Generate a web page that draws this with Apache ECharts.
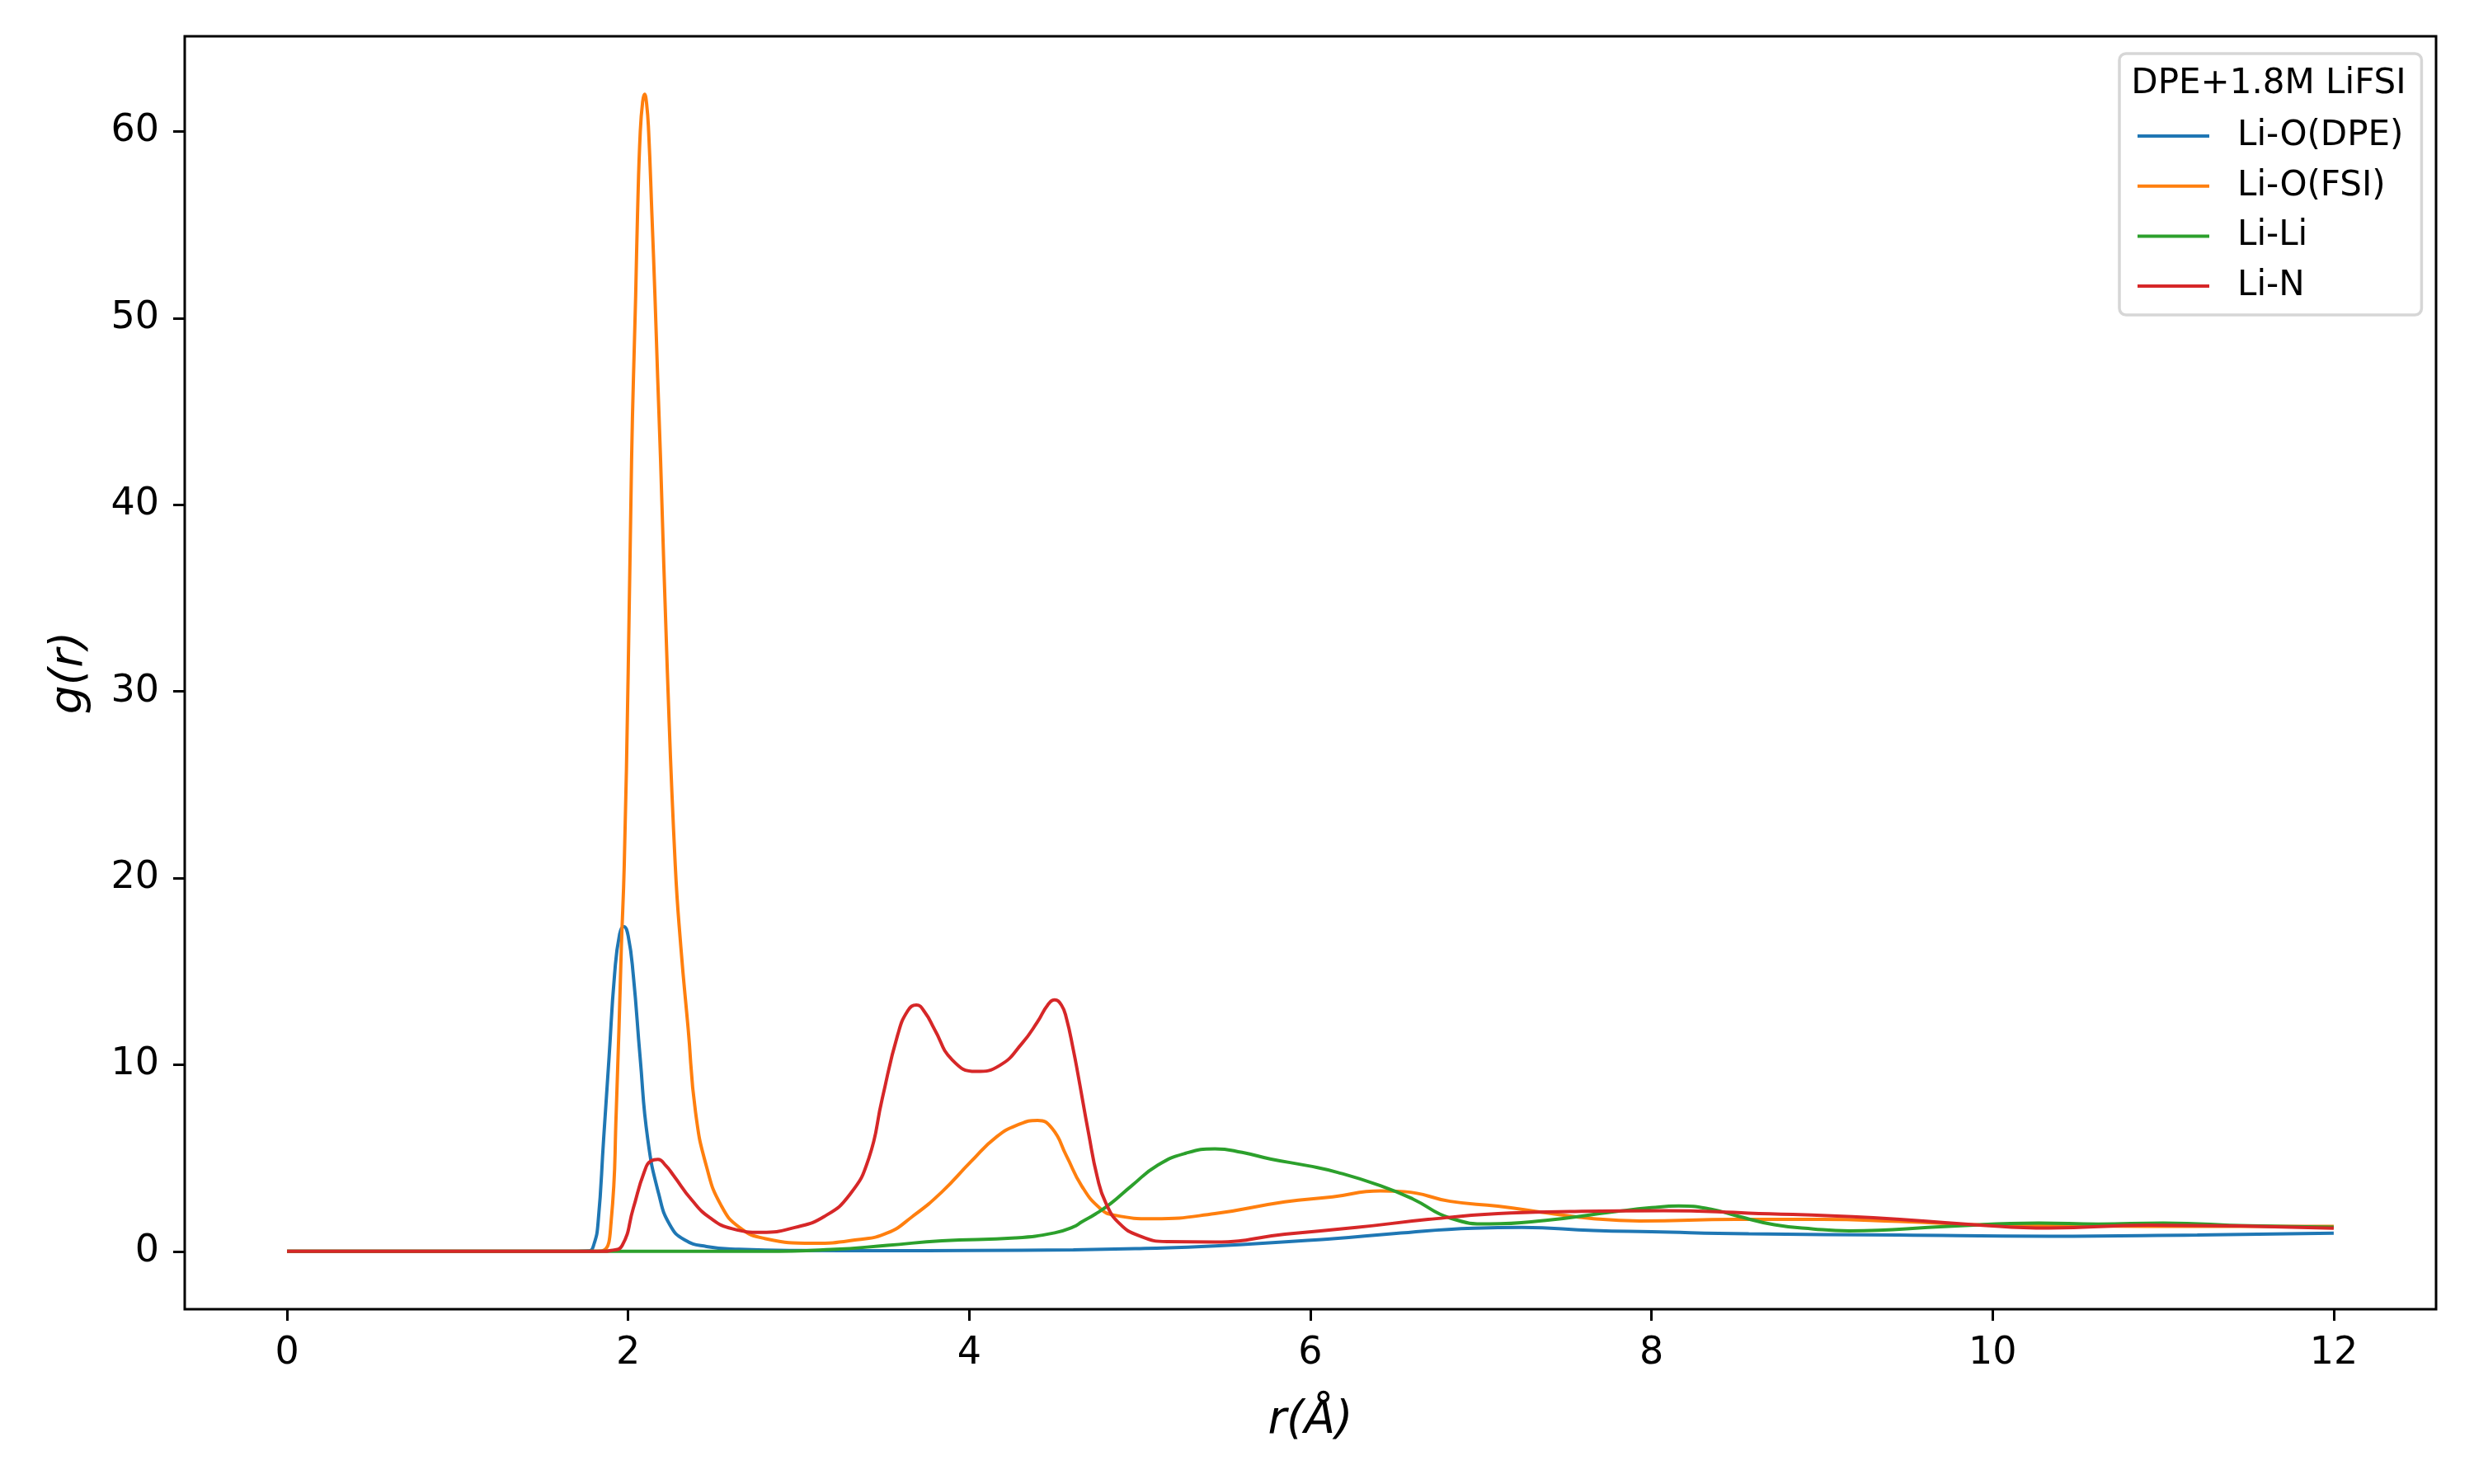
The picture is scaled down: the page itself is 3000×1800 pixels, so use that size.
<!DOCTYPE html>
<html>
<head>
<meta charset="utf-8">
<script src="https://cdn.jsdelivr.net/npm/echarts@6/dist/echarts.min.js"></script>
<style>html,body{margin:0;padding:0;background:#fff;}#chart{width:3000px;height:1800px;}</style>
</head>
<body>
<div id="chart"></div>
<script>
const legendTitle = 'DPE+1.8M LiFSI';
const seriesNames = ['Li-O(DPE)', 'Li-O(FSI)', 'Li-Li', 'Li-N'];
const xTicks = [0, 2, 4, 6, 8, 10, 12];
const yTicks = [0, 10, 20, 30, 40, 50, 60];

const rDPE = [0, 1.0, 1.70, 1.77, 1.80, 1.824, 1.856, 1.888, 1.92, 1.95, 1.975, 2.00, 2.03, 2.07, 2.115, 2.18, 2.244, 2.33, 2.46, 2.65, 3.0, 3.5, 4.0, 4.61, 5.0, 5.44, 6.13, 6.49, 6.96, 7.24, 7.66, 8.0, 8.57, 9.45, 10.33, 11.2, 12.0];
const gDPE = [0, 0, 0, 0.02, 0.4, 1.58, 6.0, 10.4, 14.8, 17.0, 17.4, 16.9, 14.8, 10.4, 6.0, 3.05, 1.43, 0.62, 0.26, 0.11, 0.05, 0.04, 0.05, 0.08, 0.15, 0.29, 0.68, 0.95, 1.24, 1.28, 1.12, 1.05, 0.94, 0.87, 0.81, 0.88, 0.97];

const rFSI = [0, 1.0, 1.80, 1.856, 1.90, 1.93, 1.96, 1.977, 2.00, 2.02, 2.031, 2.044, 2.055, 2.071, 2.085, 2.096, 2.108, 2.12, 2.139, 2.157, 2.173, 2.19, 2.23, 2.276, 2.309, 2.352, 2.395, 2.46, 2.545, 2.653, 2.80, 3.085, 3.34, 3.52, 3.667, 3.84, 4.01, 4.16, 4.29, 4.40, 4.486, 4.57, 4.66, 4.766, 4.85, 5.08, 5.44, 5.85, 6.13, 6.41, 6.55, 6.82, 7.10, 7.38, 7.66, 7.93, 8.49, 9.0, 9.45, 10.03, 10.91, 12.0];
const gFSI = [0, 0, 0, 0.05, 1.58, 7.46, 16.3, 20.7, 31, 42.4, 46.8, 51.2, 55.6, 60.0, 61.6, 62.0, 61.5, 60.0, 55.6, 51.2, 46.8, 42.4, 31, 20.7, 16.3, 11.9, 7.46, 4.52, 2.46, 1.28, 0.69, 0.43, 0.62, 0.99, 1.87, 3.19, 4.81, 6.14, 6.8, 7.02, 6.58, 5.11, 3.49, 2.31, 1.94, 1.75, 2.02, 2.65, 2.92, 3.24, 3.2, 2.68, 2.42, 2.07, 1.75, 1.63, 1.71, 1.72, 1.6, 1.4, 1.34, 1.34];

const rLiLi = [0, 1.0, 2.0, 2.8, 3.19, 3.52, 3.84, 4.27, 4.50, 4.61, 4.66, 4.74, 4.83, 4.95, 5.105, 5.27, 5.44, 5.6, 5.77, 5.99, 6.16, 6.41, 6.60, 6.82, 7.05, 7.38, 7.79, 8.0, 8.16, 8.35, 8.5, 8.72, 8.95, 9.16, 9.74, 10.27, 10.62, 11.0, 11.5, 12.0];
const gLiLi = [0, 0, 0, 0, 0.1, 0.32, 0.57, 0.72, 0.99, 1.31, 1.58, 2.0, 2.57, 3.5, 4.62, 5.26, 5.49, 5.3, 4.94, 4.58, 4.23, 3.52, 2.81, 1.78, 1.47, 1.66, 2.13, 2.34, 2.43, 2.26, 1.9, 1.43, 1.2, 1.1, 1.34, 1.52, 1.46, 1.52, 1.37, 1.3];

const rLiN = [0, 1.0, 1.85, 1.90, 1.964, 2.03, 2.093, 2.135, 2.175, 2.22, 2.265, 2.373, 2.48, 2.61, 2.783, 2.977, 3.15, 3.30, 3.41, 3.49, 3.58, 3.64, 3.69, 3.74, 3.796, 3.90, 4.04, 4.18, 4.31, 4.40, 4.46, 4.50, 4.54, 4.57, 4.61, 4.637, 4.70, 4.75, 4.80, 4.88, 4.995, 5.16, 5.44, 5.85, 6.27, 6.69, 7.10, 7.52, 8.07, 8.57, 9.30, 9.89, 10.33, 10.91, 12.0];
const gLiN = [0, 0, 0, 0.05, 0.3, 2.31, 4.22, 4.85, 4.93, 4.6, 4.08, 2.75, 1.80, 1.21, 1.02, 1.28, 1.87, 3.05, 4.96, 8.2, 11.59, 12.9, 13.2, 12.8, 11.9, 10.26, 9.64, 9.97, 11.15, 12.3, 13.2, 13.47, 13.2, 12.47, 10.8, 9.5, 6.3, 4.0, 2.6, 1.5, 0.84, 0.52, 0.5, 0.92, 1.28, 1.71, 2.02, 2.13, 2.18, 2.05, 1.8, 1.43, 1.25, 1.4, 1.24];

const colors = ['#1f77b4', '#ff7f0e', '#2ca02c', '#d62728'];
const rs = [rDPE, rFSI, rLiLi, rLiN];
const gs = [gDPE, gFSI, gLiLi, gLiN];

const FONT = 'DejaVu Sans';
const chart = echarts.init(document.getElementById('chart'), null, {renderer: 'canvas'});
const series = seriesNames.map((name, i) => ({
  name: name,
  type: 'line',
  data: rs[i].map((r, k) => [r, gs[i][k]]),
  showSymbol: false,
  symbol: 'none',
  smooth: 0.5,
  lineStyle: {color: colors[i], width: 4},
  itemStyle: {color: colors[i]},
  z: 2 + i
}));

chart.setOption({
  animation: false,
  backgroundColor: '#fff',
  color: colors,
  grid: {left: 224, right: 46, top: 44, bottom: 212, show: true, borderColor: '#000', borderWidth: 3, backgroundColor: 'transparent'},
  xAxis: {
    type: 'value', min: -0.6, max: 12.6,
    name: 'r(Å)', nameLocation: 'middle', nameGap: 108,
    nameTextStyle: {fontFamily: FONT, fontSize: 55, fontStyle: 'italic', color: '#000'},
    axisLine: {show: false, onZero: false},
    axisTick: {show: true, length: 14, lineStyle: {color: '#000', width: 3}, customValues: xTicks},
    axisLabel: {fontFamily: FONT, fontSize: 46, color: '#000', margin: 31, customValues: xTicks},
    splitLine: {show: false}
  },
  yAxis: {
    type: 'value', min: -3.1, max: 65.1,
    name: 'g(r)', nameLocation: 'middle', nameGap: 112,
    nameTextStyle: {fontFamily: FONT, fontSize: 55, fontStyle: 'italic', color: '#000'},
    axisLine: {show: false, onZero: false},
    axisTick: {show: true, length: 14, lineStyle: {color: '#000', width: 3}, customValues: yTicks},
    axisLabel: {fontFamily: FONT, fontSize: 46, color: '#000', margin: 31, customValues: yTicks},
    splitLine: {show: false}
  },
  legend: {
    orient: 'vertical', left: 2570, top: 65,
    padding: [75, 22, 10, 22],
    data: seriesNames,
    icon: 'rect', itemWidth: 87, itemHeight: 4, itemGap: 10.7,
    textStyle: {fontFamily: FONT, fontSize: 42, color: '#000', lineHeight: 50, padding: [0, 0, 0, 29]},
    backgroundColor: 'rgba(255,255,255,0.8)',
    borderColor: '#d6d6d6', borderWidth: 3.5, borderRadius: 8
  },
  graphic: [{
    type: 'text', x: 2751, y: 102, z: 100,
    style: {text: legendTitle, font: '42px "DejaVu Sans"', fill: '#000', textAlign: 'center', textVerticalAlign: 'middle'}
  }],
  series: series
});
</script>
</body>
</html>
